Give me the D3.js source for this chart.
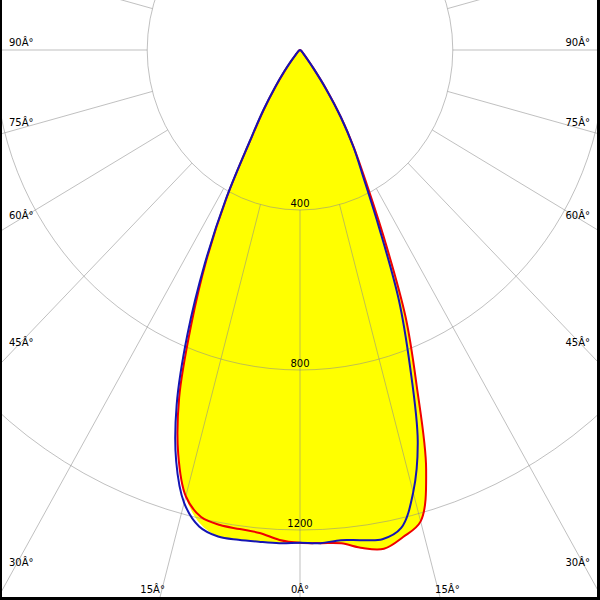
<!DOCTYPE html>
<html><head><meta charset="utf-8">
<script src="https://cdn.jsdelivr.net/npm/d3@7/dist/d3.min.js"></script>
<style>html,body{margin:0;padding:0;background:#fff}svg{display:block}</style>
</head><body>
<script>
// gamma angles (deg from nadir) and intensities (cd)
const angles    = [0,2.5,5,7.5,10,12.5,15,17.5,20,22.5,25,27.5,30,32.5,35,37.5,40,45,50,55,60,70,80,90];
const blueLeft  = [1232,1234,1234,1235,1235,1220,1172,1078,944,770,590,420,262,180,115,68,38,14,8,5,3,2,1,0];
const blueRight = [1232,1234,1230,1236,1242,1224,1145,1025,842,676,490,360,280,198,118,58,28,11,7,5,3,2,1,0];
const redLeft   = [1232,1226,1212,1208,1206,1196,1155,1060,925,745,580,415,258,175,110,65,35,13,8,5,3,2,1,0];
const redRight  = [1232,1234,1238,1256,1266,1247,1220,1098,893,722,525,378,282,200,120,58,29,12,7,5,3,2,1,0];
const fillLeft  = [1232,1234,1234,1235,1235,1212,1157,1060,925,745,580,415,258,175,110,65,35,13,8,5,3,2,1,0];
const fillRight = [1232,1234,1238,1256,1266,1247,1220,1098,893,722,525,378,282,200,120,58,29,12,7,5,3,2,1,0];

const ringValues = [400, 800, 1200];
const ringLabels = ["400", "800", "1200"];
const spokeAngles = d3.range(0, 360, 15);
const sideAngles = [90, 75, 60, 45, 30];
const sideLabels = ["90Â°", "75Â°", "60Â°", "45Â°", "30Â°"];
const bottomAngles = [-15, 0, 15];
const bottomLabels = ["15Â°", "0Â°", "15Â°"];

const W = 600, H = 600, cx = 300, cy = 50;
const sx = d3.scaleLinear().domain([0, 1200]).range([0, 458.4]);
const sy = d3.scaleLinear().domain([0, 1200]).range([0, 480]);
const rad = d => d * Math.PI / 180;
function pt(I, deg, side) {
  const a = rad(deg);
  return [cx + side * sx(I) * Math.sin(a), cy + sy(I) * Math.cos(a)];
}
function curvePts(left, right) {
  const p = [];
  for (let i = angles.length - 1; i >= 0; i--) p.push(pt(left[i], angles[i], -1));
  for (let i = 1; i < angles.length; i++) p.push(pt(right[i], angles[i], 1));
  return p;
}
const line = d3.line().curve(d3.curveCatmullRom.alpha(0.5));

const svg = d3.select("body").append("svg").attr("width", W).attr("height", H);
svg.append("rect").attr("width", W).attr("height", H).attr("fill", "#fff");

// fill
svg.append("path").attr("d", line(curvePts(fillLeft, fillRight)) + "Z")
  .attr("fill", "#ffff00").attr("stroke", "none");

// grid
const grid = svg.append("g").attr("stroke", "#8c8c8c").attr("stroke-opacity", 0.55)
  .attr("fill", "none").attr("stroke-width", 1);
grid.selectAll("ellipse").data(ringValues).enter().append("ellipse")
  .attr("cx", cx).attr("cy", cy).attr("rx", d => sx(d)).attr("ry", d => sy(d));
grid.selectAll("line").data(spokeAngles).enter().append("line")
  .attr("x1", d => pt(400, d, 1)[0]).attr("y1", d => pt(400, d, 1)[1])
  .attr("x2", d => pt(2000, d, 1)[0]).attr("y2", d => pt(2000, d, 1)[1]);

// ring labels
svg.selectAll("text.ring").data(ringValues).enter().append("text")
  .attr("class", "ring").attr("x", cx).attr("y", d => cy + sy(d) - 3)
  .attr("text-anchor", "middle").attr("font-family", "DejaVu Sans").attr("font-size", 10)
  .attr("fill", "#000").text((d, i) => ringLabels[i]);

// curves
svg.append("path").attr("d", line(curvePts(redLeft, redRight)))
  .attr("fill", "none").attr("stroke", "#f00000").attr("stroke-width", 2).attr("stroke-linejoin", "round");
svg.append("path").attr("d", line(curvePts(blueLeft, blueRight)))
  .attr("fill", "none").attr("stroke", "#1414b4").attr("stroke-width", 2).attr("stroke-linejoin", "round");

// angle labels
const lab = svg.append("g").attr("font-family", "DejaVu Sans").attr("font-size", 10).attr("fill", "#000");
sideAngles.forEach((a, i) => {
  const y = cy + 300 / Math.tan(rad(a)) - 4;
  lab.append("text").attr("x", 9).attr("y", y).attr("text-anchor", "start").text(sideLabels[i]);
  lab.append("text").attr("x", 590).attr("y", y).attr("text-anchor", "end").text(sideLabels[i]);
});
bottomAngles.forEach((a, i) => {
  const x = cx + (H - cy) * Math.tan(rad(a));
  lab.append("text").attr("x", x).attr("y", 593).attr("text-anchor", "middle").text(bottomLabels[i]);
});

// frame
svg.append("rect").attr("x", 0).attr("y", 0).attr("width", 2).attr("height", H).attr("fill", "#000");
svg.append("rect").attr("x", 597).attr("y", 0).attr("width", 3).attr("height", H).attr("fill", "#000");
svg.append("rect").attr("x", 0).attr("y", 597).attr("width", W).attr("height", 3).attr("fill", "#000");
</script>
</body></html>
